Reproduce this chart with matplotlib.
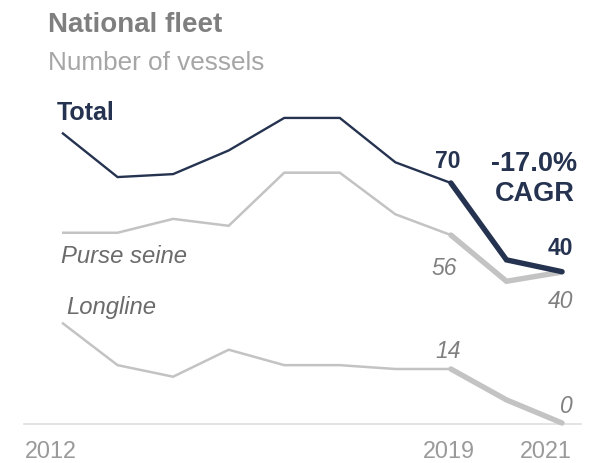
import matplotlib
matplotlib.use('Agg')
import matplotlib.pyplot as plt

# ---- data ----
years = [2012, 2013, 2014, 2015, 2016, 2017, 2018, 2019, 2020, 2021]
total = [87, 72, 73, 81, 92, 92, 77, 70, 44, 40]
purse_seine = [57, 57, 63, 60, 83, 83, 65, 56, 36, 40]
longline = [26, 15, 12, 19, 15, 15, 14, 14, 6, 0]
year_labels = [2012, 2019, 2021]
cagr_text = "-17.0%\nCAGR"

# ---- style ----
NAVY = '#253350'
LGRAY = '#c3c3c3'
plt.rcParams['font.family'] = ['Liberation Sans', 'DejaVu Sans']

W, H = 604, 464
fig = plt.figure(figsize=(W / 100, H / 100), dpi=100)
fig.patch.set_facecolor('white')

left_px, right_px, top_px, bot_px = 24, 581, 100, 425
rect = [left_px / W, (H - bot_px) / H, (right_px - left_px) / W, (bot_px - top_px) / H]

ax_long = fig.add_axes(rect)
ax_purse = fig.add_axes(rect)
ax_total = fig.add_axes(rect)

xlim = (2011.316, 2021.342)
for ax in (ax_long, ax_purse, ax_total):
    ax.set_xlim(*xlim)
    ax.patch.set_visible(False)
    ax.axis('off')

ax_total.set_ylim(-11.5, 98.4)
ax_purse.set_ylim(-25.8, 114.9)
ax_long.set_ylim(-0.26, 84.0)

# baseline
ax_long.plot([0, 1], [0, 0], transform=ax_long.transAxes, color='#dedede',
             lw=1.2, clip_on=False, zorder=0)

hi = 7  # index of 2019
for ax, vals, col, lw in ((ax_long, longline, LGRAY, 1.8),
                          (ax_purse, purse_seine, LGRAY, 1.8),
                          (ax_total, total, NAVY, 1.7)):
    ax.plot(years[:hi + 1], vals[:hi + 1], color=col, lw=lw,
            solid_joinstyle='miter', solid_capstyle='butt', clip_on=False)
    ax.plot(years[hi:], vals[hi:], color=col, lw=3.9,
            solid_joinstyle='miter', solid_capstyle='round', clip_on=False)

# titles
fig.text(48 / W, 1 - 31.7 / H, 'National fleet', fontsize=20, fontweight='bold',
         color='#7f7f7f', ha='left', va='baseline')
fig.text(48 / W, 1 - 70 / H, 'Number of vessels', fontsize=18.8,
         color='#a6a6a6', ha='left', va='baseline')

LBL = 16.5
def ann(ax, txt, x, y, dx, dy, ha='center', **kw):
    ax.annotate(txt, xy=(x, y), xytext=(dx, dy), textcoords='offset pixels',
                ha=ha, va='baseline', fontsize=kw.pop('fontsize', LBL),
                annotation_clip=False, **kw)

# series names
ann(ax_total, 'Total', years[0], total[0], -5, 13.4, ha='left',
    fontweight='bold', color=NAVY, fontsize=18)
ann(ax_purse, 'Purse seine', years[0], purse_seine[0], -1.3, -29.3, ha='left',
    style='italic', color='#6b6b6b', fontsize=17.2)
ann(ax_long, 'Longline', years[0], longline[0], 4, 9.4, ha='left',
    style='italic', color='#6b6b6b', fontsize=17.2)

# value labels
ann(ax_total, f'{total[hi]}', years[hi], total[hi], -3.5, 16.3,
    fontweight='bold', color=NAVY)
ann(ax_total, f'{total[-1]}', years[-1], total[-1], 11, 17.7, ha='right',
    fontweight='bold', color=NAVY)
ann(ax_purse, f'{purse_seine[hi]}', years[hi], purse_seine[hi], -7, -39,
    style='italic', color='#808080')
ann(ax_purse, f'{purse_seine[-1]}', years[-1], purse_seine[-1], 11, -35, ha='right',
    style='italic', color='#808080')
ann(ax_long, f'{longline[hi]}', years[hi], longline[hi], -3, 12,
    style='italic', color='#808080')
ann(ax_long, f'{longline[-1]}', years[-1], longline[-1], 11, 11, ha='right',
    style='italic', color='#808080')

# CAGR
ax_total.annotate(cagr_text, xy=(years[-1], total[-1]), xytext=(-27.5, 71.7),
                  textcoords='offset pixels', ha='center', va='baseline',
                  fontsize=19.5, fontweight='bold', color=NAVY,
                  linespacing=1.18, multialignment='center', annotation_clip=False)

# year labels
offs = {2012: -11.5, 2019: -2, 2021: -16.5}
for y in year_labels:
    ax_long.annotate(str(y), xy=(y, 0), xycoords=ax_long.get_xaxis_transform(),
                     xytext=(offs[y], -33.3), textcoords='offset pixels',
                     ha='center', va='baseline', fontsize=16.8, color='#9a9a9a',
                     annotation_clip=False)

fig.savefig('out.png', dpi=100, facecolor='white')
